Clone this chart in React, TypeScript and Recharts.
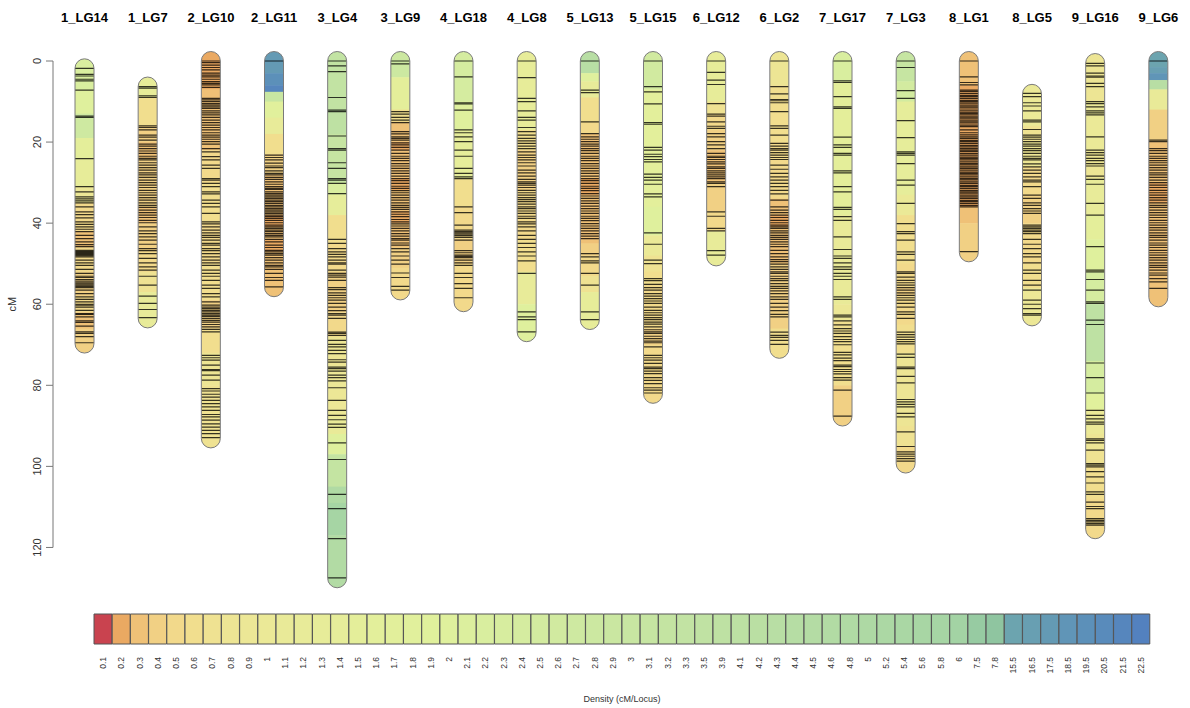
import { BarChart, Bar, XAxis, YAxis, Cell } from "recharts";

const groups = [
  "1_LG14", "1_LG7", "2_LG10", "2_LG11", "3_LG4", "3_LG9", "4_LG18", "4_LG8", "5_LG13",
  "5_LG15", "6_LG12", "6_LG2", "7_LG17", "7_LG3", "8_LG1", "8_LG5", "9_LG16", "9_LG6",
];

// start / end of each linkage group (cM)
const spans = [
  [1.8, 69.7], [6.3, 63.5], [0, 93.1], [0, 55.8], [0, 127.6], [0, 56.6], [0, 59.5], [0, 66.9], [0, 63.9],
  [0, 82.1], [0, 48.2], [0, 71], [0, 87.7], [0, 99.3], [0, 47.2], [8.1, 63], [0.5, 115.5], [0, 58.3],
];

// marker positions (cM)
const markers = [
  [1.8, 3.3, 3.7, 4.5, 4.9, 7.2, 13.6, 13.9, 24.1, 31.0, 32.3, 33.5, 34.0, 34.5, 35.0, 36.0, 37.2, 37.9, 38.7, 39.7, 40.3, 40.9, 41.5, 42.1, 43.0, 43.8, 44.6, 45.3, 45.8, 46.7, 47.0, 47.2, 47.5, 47.7, 48.0, 48.3, 49.1, 49.8, 50.4, 51.4, 52.4, 53.1, 53.4, 53.9, 54.3, 54.7, 55.0, 55.3, 55.6, 55.9, 56.5, 57.4, 58.2, 58.8, 59.4, 60.0, 60.2, 60.7, 61.5, 62.3, 62.5, 63.1, 64.1, 64.5, 65.4, 66.8, 67.2, 68.0, 69.5],
  [6.3, 6.7, 8.6, 9.0, 16.0, 16.4, 17.0, 18.3, 18.8, 19.5, 20.5, 21.0, 21.6, 22.2, 22.8, 23.5, 24.0, 24.4, 25.1, 25.7, 26.3, 26.9, 27.6, 28.1, 28.7, 29.4, 30.0, 30.6, 31.2, 31.9, 32.5, 33.1, 33.7, 34.3, 35.0, 35.6, 36.1, 36.8, 37.4, 38.0, 38.6, 39.3, 39.9, 40.9, 41.9, 42.6, 43.4, 44.2, 45.2, 46.3, 46.8, 47.5, 48.7, 49.8, 50.8, 51.6, 53.1, 55.3, 58.0, 59.8, 61.3, 63.3],
  [0, 0.4, 1.0, 1.6, 2.2, 3.0, 3.5, 3.9, 4.5, 5.1, 5.5, 5.9, 6.5, 9.2, 9.6, 10.0, 10.5, 10.9, 11.3, 11.7, 12.3, 12.8, 13.3, 13.9, 14.6, 15.2, 15.8, 16.4, 17.0, 17.7, 18.3, 18.8, 19.3, 19.9, 20.5, 21.6, 22.4, 23.6, 24.4, 25.7, 26.5, 29.0, 29.4, 30.2, 31.0, 32.3, 32.8, 34.3, 35.1, 36.0, 37.6, 39.7, 40.2, 40.9, 41.7, 42.4, 43.0, 43.5, 44.2, 45.0, 45.4, 46.3, 46.8, 47.5, 48.3, 49.1, 49.8, 50.4, 51.6, 52.4, 53.1, 54.1, 55.3, 56.1, 57.4, 58.2, 59.4, 60.2, 60.7, 61.1, 61.5, 61.9, 62.3, 62.7, 63.0, 63.5, 64.0, 64.4, 65.0, 65.6, 66.2, 66.8, 72.6, 73.2, 73.8, 75.0, 76.1, 76.4, 77.5, 78.7, 80.8, 81.4, 82.2, 82.9, 83.7, 84.5, 85.3, 86.2, 87.2, 87.8, 88.6, 89.5, 90.3, 91.1, 91.9, 92.9],
  [0, 23.2, 23.8, 24.4, 25.2, 25.9, 26.3, 27.1, 27.7, 28.1, 28.7, 29.2, 29.8, 30.4, 31.0, 31.4, 31.7, 32.3, 32.7, 33.1, 33.5, 33.9, 34.3, 34.7, 35.1, 35.6, 36.0, 36.4, 36.8, 37.2, 37.6, 38.0, 38.4, 38.8, 39.3, 39.9, 40.5, 40.9, 41.3, 41.7, 42.1, 42.6, 43.0, 43.4, 44.0, 44.6, 45.4, 46.0, 46.7, 47.1, 47.5, 47.9, 48.5, 49.1, 49.8, 50.4, 50.8, 51.4, 52.4, 53.4, 54.1, 55.7],
  [0, 1.2, 2.6, 9.0, 12.1, 12.5, 18.5, 21.6, 22.0, 25.1, 26.5, 29.0, 29.4, 30.2, 32.7, 44.0, 45.0, 46.3, 47.1, 47.7, 48.3, 49.1, 49.8, 50.1, 51.6, 52.4, 52.8, 53.3, 54.1, 55.9, 56.4, 57.2, 57.8, 58.4, 59.0, 59.8, 60.7, 61.6, 62.3, 62.7, 63.5, 66.9, 67.2, 67.7, 68.9, 69.9, 70.5, 71.4, 72.2, 73.7, 74.3, 75.5, 75.9, 76.5, 77.5, 78.1, 78.9, 80.6, 83.7, 86.2, 87.4, 88.5, 89.6, 90.4, 94.2, 98.3, 106.9, 110.4, 117.8, 127.5],
  [0, 0.7, 12.5, 13.1, 13.9, 14.6, 15.2, 17.4, 18.0, 18.7, 19.1, 19.5, 20.2, 20.7, 21.3, 22.0, 22.8, 23.5, 24.0, 24.6, 25.3, 25.9, 26.5, 27.1, 27.7, 28.4, 29.0, 29.5, 30.2, 30.9, 31.4, 32.0, 32.5, 33.1, 33.7, 34.3, 35.0, 35.6, 36.1, 36.6, 37.2, 37.8, 38.4, 39.1, 39.7, 40.2, 40.7, 41.3, 41.9, 42.6, 43.2, 43.8, 44.2, 44.9, 45.4, 46.3, 47.1, 48.1, 49.1, 50.1, 52.3, 53.4, 55.6, 56.5],
  [0, 3.9, 10.3, 10.6, 12.1, 17.0, 17.7, 18.7, 19.9, 22.0, 23.5, 26.5, 27.7, 28.6, 29.0, 36.0, 37.4, 40.5, 41.7, 42.1, 42.4, 42.7, 43.1, 43.5, 44.2, 46.8, 47.3, 47.9, 48.2, 48.5, 49.1, 49.8, 50.4, 52.4, 53.4, 54.9, 56.1, 58.4],
  [0, 4.1, 9.2, 10.0, 12.3, 13.9, 14.6, 16.4, 17.4, 18.3, 19.1, 19.7, 20.3, 21.0, 21.6, 22.4, 23.2, 23.8, 24.4, 25.1, 25.9, 26.9, 27.6, 28.4, 29.2, 29.8, 30.2, 30.6, 31.2, 31.9, 32.5, 33.1, 33.7, 34.2, 34.7, 35.3, 36.0, 36.4, 37.0, 37.6, 38.3, 38.8, 39.7, 40.2, 40.9, 41.9, 43.0, 44.0, 45.0, 46.0, 47.1, 48.1, 49.3, 52.4, 61.9, 63.1, 63.8, 66.8],
  [0, 7.2, 7.8, 15.0, 17.9, 18.7, 19.3, 19.9, 20.5, 21.0, 21.6, 22.1, 22.8, 23.5, 24.0, 24.6, 25.3, 25.9, 26.5, 27.1, 27.7, 28.4, 29.0, 29.5, 30.2, 30.9, 31.4, 32.0, 32.7, 33.3, 33.9, 34.5, 35.1, 35.8, 36.4, 37.0, 37.6, 38.3, 38.8, 39.4, 40.1, 40.7, 41.3, 41.9, 42.6, 43.2, 43.8, 47.5, 48.3, 49.3, 49.8, 52.4, 55.3, 61.9, 63.8],
  [0, 6.3, 7.6, 10.6, 15.2, 15.6, 21.3, 22.0, 23.0, 23.6, 24.3, 24.9, 27.9, 28.7, 29.4, 30.4, 32.8, 33.5, 42.4, 45.2, 49.1, 50.0, 53.7, 54.2, 55.1, 55.9, 56.5, 57.4, 58.0, 58.6, 59.2, 59.8, 60.7, 61.5, 62.1, 62.7, 63.3, 63.8, 64.4, 64.9, 65.6, 66.3, 66.8, 67.2, 67.9, 68.5, 69.1, 69.5, 70.5, 72.6, 73.2, 73.8, 74.6, 75.5, 75.9, 76.5, 77.1, 78.1, 78.8, 79.6, 80.6, 81.2, 81.9],
  [0, 2.8, 4.7, 5.8, 10.5, 13.1, 13.6, 15.0, 16.1, 16.6, 17.9, 18.7, 19.9, 20.7, 21.6, 22.8, 23.5, 23.8, 24.3, 24.9, 25.4, 26.1, 26.5, 27.1, 27.6, 28.1, 28.6, 29.0, 29.8, 30.2, 31.0, 37.2, 38.3, 41.3, 41.9, 46.8, 47.9],
  [0, 6.3, 8.1, 9.5, 9.8, 10.3, 12.5, 16.0, 16.6, 18.3, 20.3, 21.0, 21.6, 22.0, 22.6, 23.2, 23.8, 24.3, 25.7, 26.7, 27.7, 28.6, 29.4, 30.2, 31.0, 31.9, 32.8, 34.3, 36.0, 36.8, 37.4, 38.0, 38.6, 39.3, 39.9, 40.5, 40.9, 41.3, 41.9, 42.4, 43.0, 43.5, 44.0, 44.6, 45.2, 45.8, 46.7, 47.5, 48.3, 49.0, 49.5, 50.1, 50.8, 51.4, 52.0, 52.4, 53.1, 53.7, 54.2, 54.9, 55.6, 56.1, 56.7, 57.4, 58.2, 58.8, 59.8, 60.7, 61.6, 62.5, 63.1, 66.9, 67.7, 68.2, 68.9, 69.9],
  [0, 4.9, 5.3, 8.8, 11.3, 11.7, 18.8, 20.7, 21.3, 22.8, 23.2, 27.1, 27.6, 31.0, 32.3, 36.1, 36.6, 38.4, 39.3, 43.4, 46.5, 48.1, 48.7, 49.8, 50.8, 51.4, 52.4, 53.1, 53.9, 58.2, 58.8, 62.7, 63.1, 64.1, 65.1, 66.0, 66.6, 67.2, 68.0, 68.7, 69.2, 70.0, 71.9, 72.5, 73.3, 73.9, 75.0, 75.4, 76.1, 76.6, 77.2, 78.1, 78.7, 81.2, 87.6],
  [0, 1.6, 7.3, 9.2, 14.7, 18.9, 22.4, 22.8, 23.2, 25.3, 29.4, 30.6, 35.1, 40.1, 42.1, 42.6, 44.2, 47.1, 47.7, 49.1, 52.0, 52.4, 53.3, 54.1, 54.7, 55.3, 55.9, 56.5, 57.2, 57.8, 58.4, 59.0, 59.8, 60.7, 61.9, 62.5, 63.5, 66.9, 67.5, 68.1, 68.7, 69.2, 69.8, 72.3, 73.1, 75.5, 75.9, 77.8, 79.4, 83.5, 84.1, 84.7, 85.3, 86.9, 87.8, 91.5, 95.1, 96.4, 97.0, 97.5, 98.1, 98.7],
  [0, 3.9, 5.3, 5.9, 7.2, 7.5, 8.0, 8.5, 8.8, 9.2, 9.7, 10.0, 10.4, 10.9, 11.3, 11.6, 12.1, 12.6, 12.9, 13.3, 13.8, 14.1, 14.6, 15.0, 15.3, 15.8, 16.2, 17.0, 17.7, 18.2, 18.7, 19.1, 19.6, 19.9, 20.3, 20.8, 21.2, 21.6, 22.0, 22.3, 22.8, 23.2, 23.7, 24.0, 24.4, 24.9, 25.3, 25.6, 26.1, 26.5, 26.9, 27.4, 27.7, 28.1, 28.6, 29.0, 29.3, 29.8, 30.2, 30.7, 31.0, 31.4, 31.9, 32.3, 32.6, 33.1, 33.5, 33.9, 34.4, 34.7, 35.1, 35.6, 36.0, 47.0],
  [8.0, 8.8, 10.3, 11.1, 12.3, 14.6, 15.0, 16.9, 18.3, 18.8, 19.3, 19.9, 20.5, 21.0, 21.6, 22.1, 22.8, 23.5, 24.0, 24.4, 25.4, 26.1, 26.9, 27.7, 28.6, 29.4, 29.8, 31.0, 33.1, 33.9, 35.0, 35.6, 36.4, 37.0, 37.6, 40.5, 40.9, 41.3, 41.7, 42.1, 42.6, 44.0, 45.2, 46.3, 47.5, 48.3, 49.8, 51.6, 52.4, 54.1, 55.3, 56.5, 59.0, 60.0, 61.1, 62.3, 62.7],
  [0.6, 1.2, 3.0, 3.7, 4.0, 5.5, 6.3, 10.0, 10.5, 11.3, 12.3, 12.8, 13.3, 18.7, 22.0, 22.6, 23.2, 24.0, 24.6, 25.3, 25.9, 28.4, 29.2, 30.4, 35.1, 38.0, 45.8, 51.6, 52.0, 53.9, 56.5, 59.4, 59.8, 63.9, 65.0, 74.5, 78.1, 81.9, 86.2, 87.4, 88.3, 89.1, 89.6, 93.2, 93.6, 94.2, 96.0, 99.3, 99.7, 100.1, 101.3, 102.6, 104.1, 106.3, 106.9, 108.8, 109.9, 110.4, 112.9, 113.3, 113.7, 114.1, 114.5],
  [0, 19.5, 19.9, 21.6, 22.1, 22.8, 23.5, 24.0, 24.6, 25.1, 25.7, 26.3, 26.9, 27.6, 28.1, 28.7, 29.4, 30.0, 30.6, 31.2, 31.9, 32.5, 33.1, 33.7, 34.3, 35.0, 35.6, 36.1, 36.8, 37.4, 38.0, 38.6, 39.3, 39.9, 40.5, 41.1, 41.7, 42.4, 43.0, 43.5, 44.2, 44.9, 45.4, 46.0, 46.7, 47.3, 47.9, 48.5, 49.1, 49.8, 50.4, 50.9, 51.6, 52.3, 52.8, 53.7, 54.5, 56.1],
];

// density segments per group: [from, to, density cM/locus]
const densitySegs = [
  [[1.8, 7, 2.2], [7, 13, 2], [13, 19, 2.7], [19, 24, 1.5], [24, 31, 1.3], [31, 35, 0.9], [35, 42, 0.5], [42, 46, 0.3], [46, 52, 0.5], [52, 58, 0.4], [58, 62, 0.5], [62, 66, 0.3], [66, 69.7, 0.4]],
  [[6.3, 9, 1.3], [9, 16, 0.6], [16, 20, 0.4], [20, 24, 0.3], [24, 36, 0.4], [36, 40, 0.3], [40, 47, 0.4], [47, 52, 0.5], [52, 57, 0.7], [57, 63.5, 1.2]],
  [[0, 7, 0.2], [7, 9, 0.3], [9, 22, 0.3], [22, 30, 0.5], [30, 40, 0.6], [40, 50, 0.5], [50, 59, 0.6], [59, 66, 0.4], [66, 72, 0.6], [72, 80, 0.8], [80, 93.1, 0.7]],
  [[0, 3, 17.5], [3, 6, 19.5], [6, 7.6, 21.5], [7.6, 10, 3], [10, 14, 1.8], [14, 18, 1.2], [18, 23, 0.6], [23, 28, 0.4], [28, 38, 0.3], [38, 41, 0.2], [41, 44, 0.3], [44, 47, 0.2], [47, 55.8, 0.3]],
  [[0, 12, 3.3], [12, 18, 3.9], [18, 30, 3.1], [30, 33, 2.2], [33, 38, 1.4], [38, 45, 0.6], [45, 52, 0.5], [52, 62, 0.4], [62, 68, 0.5], [68, 75, 0.8], [75, 88, 0.9], [88, 92, 1.1], [92, 97, 2], [97, 105, 3.2], [105, 109, 4.8], [109, 117, 5.8], [117, 127.6, 4.6]],
  [[0, 4, 2.8], [4, 12, 1.5], [12, 15, 0.6], [15, 20, 0.3], [20, 22, 0.2], [22, 29, 0.3], [29, 32, 0.2], [32, 37, 0.3], [37, 40, 0.2], [40, 46, 0.3], [46, 51, 0.4], [51, 56.6, 0.5]],
  [[0, 10, 2.4], [10, 17, 2], [17, 29, 1.4], [29, 36, 0.6], [36, 44, 0.5], [44, 50, 0.4], [50, 59.5, 0.5]],
  [[0, 17, 1.3], [17, 22, 0.6], [22, 32, 0.4], [32, 44, 0.5], [44, 52, 0.6], [52, 60, 1.2], [60, 66.9, 2]],
  [[0, 3, 4.3], [3, 5, 2], [5, 9, 1.2], [9, 15, 0.6], [15, 18, 0.5], [18, 29, 0.3], [29, 33, 0.2], [33, 45, 0.3], [45, 48, 0.4], [48, 53, 0.5], [53, 57, 0.7], [57, 63.9, 1.3]],
  [[0, 7, 2.6], [7, 36, 1.6], [36, 43, 2], [43, 48, 1], [48, 52, 0.7], [52, 55, 0.6], [55, 66, 0.5], [66, 70, 0.4], [70, 82.1, 0.5]],
  [[0, 10, 1.3], [10, 13, 0.7], [13, 17, 0.5], [17, 22, 0.4], [22, 30, 0.3], [30, 37, 0.4], [37, 42, 0.5], [42, 48.2, 1.2]],
  [[0, 6, 0.8], [6, 20, 0.6], [20, 34, 0.5], [34, 38, 0.3], [38, 41, 0.2], [41, 50, 0.3], [50, 66, 0.4], [66, 71, 0.6]],
  [[0, 5, 2.2], [5, 38, 1.5], [38, 60, 1.1], [60, 64, 0.9], [64, 80, 0.6], [80, 87.7, 0.4]],
  [[0, 5, 3.1], [5, 10, 2.5], [10, 33, 1.4], [33, 38, 1], [38, 50, 0.6], [50, 56, 0.5], [56, 58, 0.4], [58, 65, 0.5], [65, 72, 0.6], [72, 90, 0.8], [90, 95, 0.7], [95, 99.3, 0.5]],
  [[0, 6, 0.3], [6, 36, 0.2], [36, 40, 0.3], [40, 47.2, 0.4]],
  [[8.1, 16, 1], [16, 20, 0.7], [20, 26, 0.8], [26, 33, 0.5], [33, 40, 0.4], [40, 50, 0.5], [50, 56, 0.6], [56, 63, 0.9]],
  [[0.5, 10, 0.8], [10, 22, 1], [22, 29, 0.8], [29, 38, 1.2], [38, 44, 1.5], [44, 52, 2], [52, 60, 2.4], [60, 74, 3.9], [74, 82, 2.4], [82, 86, 1.8], [86, 92, 1], [92, 96, 0.8], [96, 100, 0.7], [100, 108, 0.6], [108, 115.5, 0.5]],
  [[0, 1.5, 15.5], [1.5, 3, 16.5], [3, 4.7, 18.5], [4.7, 7, 4.3], [7, 12, 1.1], [12, 20, 0.4], [20, 30, 0.3], [30, 35, 0.2], [35, 58.3, 0.3]],
];

// legend classes (cM/Locus)
const densityBreaks = [
  0.1, 0.2, 0.3, 0.4, 0.5, 0.6, 0.7, 0.8, 0.9, 1, 1.1, 1.2, 1.3, 1.4, 1.5, 1.6, 1.7, 1.8, 1.9, 2,
  2.1, 2.2, 2.3, 2.4, 2.5, 2.6, 2.7, 2.8, 2.9, 3, 3.1, 3.2, 3.3, 3.5, 3.9, 4.1, 4.2, 4.3, 4.4, 4.5,
  4.6, 4.8, 5, 5.2, 5.4, 5.6, 5.8, 6, 7.5, 7.8, 15.5, 16.5, 17.5, 18.5, 19.5, 20.5, 21.5, 22.5,
];

const palette = [
  "#c9434f", "#eaa962", "#efc177", "#f1d084", "#f2d98b", "#f1de8e", "#efe292", "#ede594", "#ece796", "#ebe997",
  "#e9ea98", "#e8eb99", "#e7ec99", "#e6ed9a", "#e4ee9a", "#e3ef9b", "#e2ef9b", "#e1f09c", "#e0f09c", "#dff09d",
  "#dcef9e", "#d9ee9f", "#d7ed9f", "#d5eca0", "#d3eba0", "#d1eaa0", "#cee9a1", "#cce8a1", "#cae7a1", "#c8e6a2",
  "#c6e5a2", "#c4e4a2", "#c2e3a3", "#c0e2a3", "#bee1a3", "#bce0a3", "#badfa3", "#b8dea4", "#b6dda4", "#b4dca4",
  "#b2dba4", "#b0daa4", "#aed9a4", "#acd8a4", "#aad7a4", "#a8d6a4", "#a6d5a4", "#a3d3a4", "#97cba2", "#8fc5a0",
  "#6ca4af", "#689fb2", "#649ab4", "#6095b7", "#5c90b9", "#598bbb", "#5686bd", "#5381bf",
];

const yTicks = [0, 20, 40, 60, 80, 100, 120];

const FONT = "'Liberation Sans', Arial, sans-serif";
const CHART_W = 1190;
const CHART_H = 600;
const TOP_AXIS_H = 61;
const BOTTOM_M = 12;
const Y_MAX = 130;
const PLOT_H = CHART_H - TOP_AXIS_H - BOTTOM_M;
const TICK_STEP = (PLOT_H * 20) / Y_MAX;

const colorFor = (d: number) => {
  let best = 0;
  densityBreaks.forEach((b, i) => {
    if (Math.abs(b - d) < Math.abs(densityBreaks[best] - d)) best = i;
  });
  return palette[best];
};

const chartData = groups.map((name, i) => ({
  name,
  span: spans[i],
  markers: markers[i],
  segs: densitySegs[i],
}));

const legendData = densityBreaks.map((b) => ({ label: String(b), v: 1 }));

const Chromosome = (props: any) => {
  const { x, y, width, height, payload, index } = props;
  if (x == null || y == null) return null;
  const top = Math.min(y, y + height);
  const h = Math.abs(height);
  const [s, e] = payload.span;
  const k = h / (e - s);
  const toY = (p: number) => top + (p - s) * k;
  const r = width / 2;
  const clipId = `chrom-clip-${index}`;
  return (
    <g>
      <defs>
        <clipPath id={clipId}>
          <rect x={x} y={top - r} width={width} height={h + 2 * r} rx={r} ry={r} />
        </clipPath>
      </defs>
      <g clipPath={`url(#${clipId})`}>
        {payload.segs.map((sg: number[], j: number) => {
          const y0 = toY(sg[0]) - (j === 0 ? r : 0);
          const y1 = toY(sg[1]) + (j === payload.segs.length - 1 ? r : 0);
          return (
            <rect key={j} x={x} y={y0} width={width} height={Math.max(0, y1 - y0) + 0.5} fill={colorFor(sg[2])} />
          );
        })}
        {payload.markers.map((m: number, j: number) => (
          <line
            key={`m${j}`}
            x1={x}
            x2={x + width}
            y1={toY(m)}
            y2={toY(m)}
            stroke="#000"
            strokeOpacity={0.78}
            strokeWidth={1.2}
          />
        ))}
      </g>
      <rect
        x={x}
        y={top - r}
        width={width}
        height={h + 2 * r}
        rx={r}
        ry={r}
        fill="none"
        stroke="#7a7a7a"
        strokeWidth={1}
      />
    </g>
  );
};

const GroupTick = (props: any) => {
  const { x, y, payload } = props;
  return (
    <text x={x} y={y - 39} textAnchor="middle" fontFamily={FONT} fontSize={13} fontWeight="bold" fill="#000">
      {payload.value}
    </text>
  );
};

const CmTick = (props: any) => {
  const { x, y, payload } = props;
  return (
    <g>
      <line x1={x - 7} x2={x} y1={y} y2={y} stroke="#777" strokeWidth={1} />
      {payload.value < 120 && <line x1={x} x2={x} y1={y} y2={y + TICK_STEP} stroke="#777" strokeWidth={1} />}
      <text
        x={x - 16}
        y={y}
        transform={`rotate(-90, ${x - 16}, ${y})`}
        textAnchor="middle"
        dominantBaseline="central"
        fontFamily={FONT}
        fontSize={11}
        fill="#333"
      >
        {payload.value}
      </text>
    </g>
  );
};

const CmLabel = () => (
  <text
    x={12}
    y={TOP_AXIS_H + (PLOT_H * 60) / Y_MAX}
    transform={`rotate(-90, 12, ${TOP_AXIS_H + (PLOT_H * 60) / Y_MAX})`}
    textAnchor="middle"
    dominantBaseline="central"
    fontFamily={FONT}
    fontSize={11}
    fill="#333"
  >
    cM
  </text>
);

const LegendTick = (props: any) => {
  const { x, y, payload } = props;
  return (
    <text
      x={x}
      y={y + 13}
      transform={`rotate(-90, ${x}, ${y + 13})`}
      textAnchor="end"
      dominantBaseline="central"
      fontFamily={FONT}
      fontSize={8.5}
      fill="#333"
    >
      {payload.value}
    </text>
  );
};

export default function App() {
  return (
    <div style={{ position: "absolute", left: 0, top: 0, width: 1190, height: 708, background: "#fff" }}>
      <BarChart
        width={CHART_W}
        height={CHART_H}
        data={chartData}
        margin={{ top: 0, right: 0, bottom: BOTTOM_M, left: 0 }}
        barCategoryGap={0}
      >
        <XAxis
          dataKey="name"
          orientation="top"
          height={TOP_AXIS_H}
          axisLine={false}
          tickLine={false}
          tickSize={0}
          tickMargin={0}
          interval={0}
          tick={<GroupTick />}
        />
        <YAxis
          type="number"
          domain={[0, Y_MAX]}
          reversed
          width={53}
          ticks={yTicks}
          axisLine={false}
          tickLine={false}
          tickSize={0}
          tickMargin={0}
          tick={<CmTick />}
          label={<CmLabel />}
        />
        <Bar dataKey="span" barSize={19} isAnimationActive={false} shape={<Chromosome />} />
      </BarChart>
      <div style={{ position: "absolute", left: 0, top: 600 }}>
        <BarChart
          width={CHART_W}
          height={108}
          data={legendData}
          margin={{ top: 14, right: 40, bottom: 0, left: 94 }}
          barCategoryGap={0}
        >
          <XAxis
            dataKey="label"
            height={64}
            axisLine={false}
            tickLine={false}
            tickSize={0}
            tickMargin={0}
            interval={0}
            tick={<LegendTick />}
            label={{
              value: "Density (cM/Locus)",
              position: "insideBottom",
              offset: 6,
              fontSize: 9,
              fontFamily: FONT,
              fill: "#333",
            }}
          />
          <YAxis hide domain={[0, 1]} />
          <Bar dataKey="v" isAnimationActive={false} stroke="#555" strokeWidth={1}>
            {legendData.map((d, i) => (
              <Cell key={d.label} fill={palette[i]} />
            ))}
          </Bar>
        </BarChart>
      </div>
    </div>
  );
}
